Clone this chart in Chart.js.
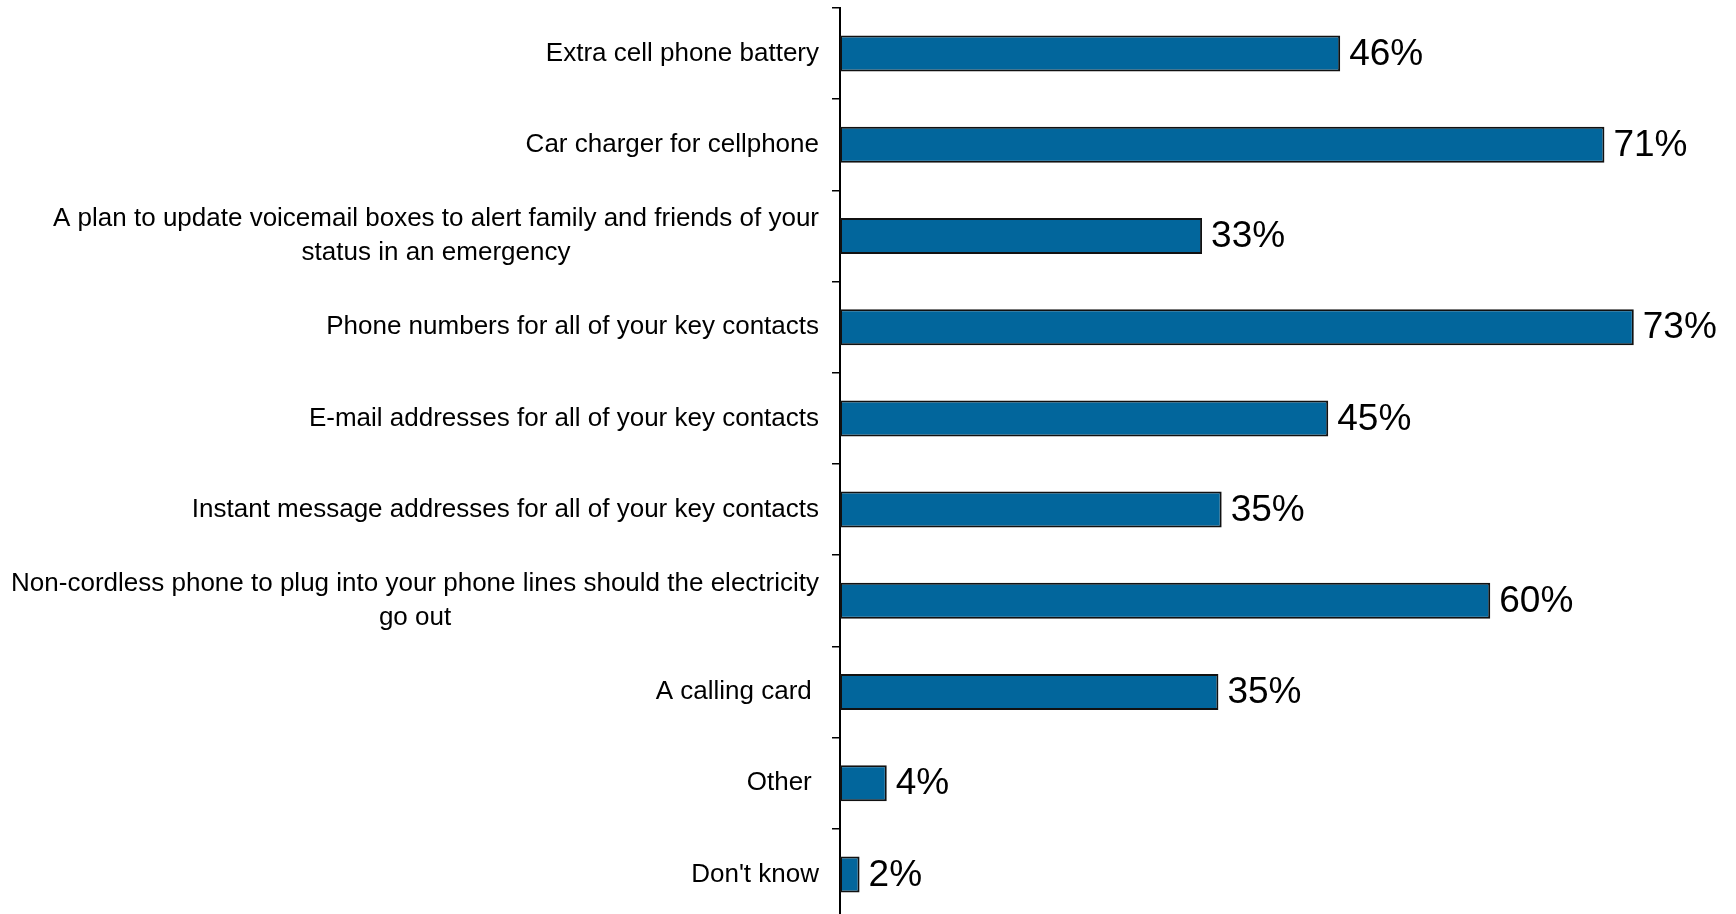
<!DOCTYPE html>
<html>
<head>
<meta charset="utf-8">
<script src="https://cdn.jsdelivr.net/npm/chart.js@4.4.1/dist/chart.umd.min.js"></script>
<style>
  html, body { margin: 0; padding: 0; background: #fff; overflow: hidden; }
  #wrap { position: relative; width: 1736px; height: 922px; }
</style>
</head>
<body>
<div id="wrap"><canvas id="prepChart"></canvas></div>
<script>
// categorias (cada linea es un elemento)
const categorias = [
    ['Extra cell phone battery'],
    ['Car charger for cellphone'],
    ['A plan to update voicemail boxes to alert family and friends of your', 'status in an emergency'],
    ['Phone numbers for all of your key contacts'],
    ['E-mail addresses for all of your key contacts'],
    ['Instant message addresses for all of your key contacts'],
    ['Non-cordless phone to plug into your phone lines should the electricity', 'go out'],
    ['A calling card '],
    ['Other '],
    ["Don't know"]
];
// largo de cada barra
const valores = [46, 70.3, 33.3, 73, 44.9, 35.1, 59.8, 34.8, 4.3, 1.8];
// texto que se muestra al final de cada barra
const etiquetasPct = ['46%', '71%', '33%', '73%', '45%', '35%', '60%', '35%', '4%', '2%'];

const FUENTE = '"Liberation Sans", Arial, sans-serif';

// etiquetas de categoria: lineas centradas entre si, bloque alineado a la derecha
const etiquetasY = {
    id: 'etiquetasY',
    afterDraw(chart) {
        const ctx = chart.ctx;
        const y = chart.scales.y;
        const derecha = y.right - 21;
        ctx.save();
        ctx.font = '26px ' + FUENTE;
        ctx.fillStyle = '#000';
        ctx.textAlign = 'center';
        ctx.textBaseline = 'middle';
        categorias.forEach((lineas, i) => {
            const anchos = lineas.map(l => ctx.measureText(l).width);
            const max = Math.max(...anchos);
            const cx = derecha - max / 2;
            const cy = y.getPixelForValue(i);
            lineas.forEach((l, j) => {
                ctx.fillText(l, cx, cy + (j - (lineas.length - 1) / 2) * 34);
            });
        });
        ctx.restore();
    }
};

// valores al final de cada barra
const etiquetasValor = {
    id: 'etiquetasValor',
    afterDatasetsDraw(chart) {
        const ctx = chart.ctx;
        const meta = chart.getDatasetMeta(0);
        ctx.save();
        ctx.font = '37px ' + FUENTE;
        ctx.fillStyle = '#000';
        ctx.textAlign = 'left';
        ctx.textBaseline = 'middle';
        meta.data.forEach((barra, i) => {
            ctx.fillText(etiquetasPct[i], barra.x + 9, barra.y + 1);
        });
        ctx.restore();
    }
};

new Chart(document.getElementById('prepChart'), {
    type: 'bar',
    data: {
        labels: categorias,
        datasets: [{
            data: valores,
            backgroundColor: '#02669C',
            borderColor: '#111',
            borderWidth: 2,
            borderSkipped: false,
            barPercentage: 0.395,
            categoryPercentage: 1
        }]
    },
    options: {
        indexAxis: 'y',
        responsive: true,
        maintainAspectRatio: false,
        animation: false,
        layout: { padding: { top: 8, bottom: 2, left: 0, right: 0 } },
        plugins: {
            legend: { display: false },
            tooltip: { enabled: false }
        },
        scales: {
            x: { display: false, min: 0, max: 82.4 },
            y: {
                ticks: { display: false },
                grid: {
                    offset: true,
                    drawOnChartArea: false,
                    drawTicks: true,
                    tickLength: 8,
                    color: '#000',
                    lineWidth: 1.5
                },
                border: { color: '#000', width: 2 },
                afterFit(scale) { scale.width = 840; }
            }
        }
    },
    plugins: [etiquetasY, etiquetasValor]
});
</script>
</body>
</html>
